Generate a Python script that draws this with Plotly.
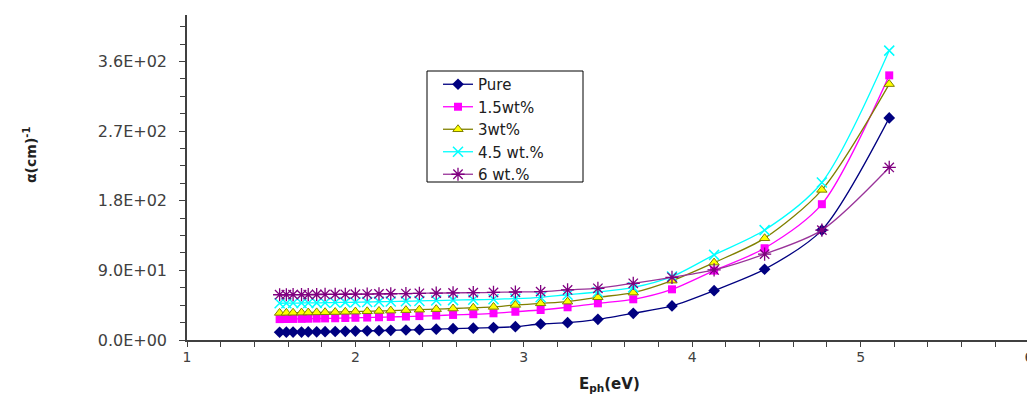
import plotly.graph_objects as go

# Photon energy (eV)
energy = [1.55, 1.59, 1.63, 1.68, 1.72, 1.77, 1.82, 1.88, 1.94, 2.00,
          2.07, 2.14, 2.21, 2.30, 2.38, 2.48, 2.58, 2.70, 2.82, 2.95,
          3.10, 3.26, 3.44, 3.65, 3.88, 4.13, 4.43, 4.77, 5.17]

pure = [10.0, 10.1, 10.2, 10.3, 10.5, 10.6, 10.8, 11.0, 11.2, 11.5,
        11.8, 12.1, 12.5, 12.9, 13.4, 14.0, 14.6, 15.3, 16.0, 17.2,
        20.7, 22.4, 26.7, 34.5, 44.0, 63.8, 91.4, 142.0, 287.0]

wt1_5 = [27.0, 27.1, 27.2, 27.3, 27.5, 27.7, 27.9, 28.1, 28.4, 28.7,
         29.0, 29.4, 29.8, 30.3, 30.9, 31.6, 32.4, 33.3, 34.5, 36.5,
         38.8, 42.3, 47.4, 52.6, 65.5, 89.7, 118.6, 175.5, 342.0]

wt3 = [35.0, 35.1, 35.2, 35.4, 35.5, 35.7, 35.9, 36.1, 36.4, 36.7,
       37.1, 37.5, 38.0, 38.6, 39.2, 39.9, 40.7, 41.7, 42.8, 45.3,
       47.4, 49.6, 55.2, 61.2, 76.7, 100.0, 131.5, 194.0, 330.7]

wt4_5 = [47.5, 47.6, 47.7, 47.8, 47.9, 48.0, 48.2, 48.4, 48.6, 48.8,
         49.1, 49.4, 49.7, 50.1, 50.5, 51.0, 51.5, 52.0, 52.6, 53.5,
         55.2, 58.5, 62.0, 68.0, 82.0, 110.0, 142.0, 203.5, 374.0]

wt6 = [58.5, 58.5, 58.6, 58.6, 58.7, 58.8, 58.9, 59.0, 59.1, 59.2,
       59.4, 59.6, 59.8, 60.0, 60.3, 60.6, 60.9, 61.2, 61.5, 62.0,
       62.5, 64.7, 66.8, 73.3, 81.0, 90.5, 111.0, 142.0, 223.0]

series_names = ["Pure", "1.5wt%", "3wt%", "4.5 wt.%", "6 wt.%"]

y_tickvals = [0, 90, 180, 270, 360]
y_ticktext = ["0.0E+00", "9.0E+01", "1.8E+02", "2.7E+02", "3.6E+02"]

font_fam = "DejaVu Sans, Arial, sans-serif"
axis_col = "#404040"

fig = go.Figure()

styles = [
    dict(data=pure, line="#000080",
         marker=dict(symbol="diamond", size=9, color="#000080")),
    dict(data=wt1_5, line="#FF00FF",
         marker=dict(symbol="square", size=8, color="#FF00FF")),
    dict(data=wt3, line="#808000",
         marker=dict(symbol="triangle-up", size=9, color="#FFFF00",
                     line=dict(color="#808000", width=1))),
    dict(data=wt4_5, line="#00FFFF",
         marker=dict(symbol="x-thin-open", size=10, color="#00FFFF",
                     line=dict(color="#00FFFF", width=1.5))),
    dict(data=wt6, line="#993399",
         marker=dict(symbol="asterisk-open", size=11, color="#800080",
                     line=dict(color="#800080", width=1.3))),
]

for i, (name, st) in enumerate(zip(series_names, styles)):
    fig.add_trace(go.Scatter(
        x=energy, y=st["data"], name=name, mode="lines+markers",
        line=dict(color=st["line"], width=1.3, shape="spline", smoothing=0.8),
        marker=st["marker"], legendgroup=f"g{i}",
    ))

# plot area in page pixels: x 187..1029, y 15..340 (page body has an 8px margin)
def px_x(p):
    return (p - 187) / 842

def px_y(p):
    return (340 - p) / 325

fig.update_layout(
    width=1027, height=391,
    margin=dict(l=179, r=6, t=7, b=59, autoexpand=False),
    paper_bgcolor="white", plot_bgcolor="white",
    font=dict(family=font_fam, color=axis_col),
    showlegend=True,
    legend=dict(
        x=px_x(438), y=px_y(68), xanchor="left", yanchor="top",
        borderwidth=0, bgcolor="rgba(0,0,0,0)",
        font=dict(family=font_fam, size=15, color="#202020"),
        traceorder="grouped", tracegroupgap=0,
    ),
    shapes=[
        dict(type="rect", xref="paper", yref="paper",
             x0=px_x(427), x1=px_x(583), y0=px_y(182), y1=px_y(71),
             line=dict(color="#000000", width=1), fillcolor="white", layer="below"),
    ],
    xaxis=dict(
        range=[1, 6], tickmode="linear", tick0=1, dtick=1,
        showgrid=False, zeroline=False, automargin=False,
        showline=True, linecolor=axis_col, linewidth=1.5,
        ticks="outside", ticklen=5, tickcolor=axis_col,
        tickfont=dict(family=font_fam, size=14, color=axis_col),
        ticklabelstandoff=-2,
        minor=dict(dtick=0.2, ticks="outside", ticklen=5, tickcolor=axis_col),
    ),
    yaxis=dict(
        range=[0, 420], tickmode="array", tickvals=y_tickvals, ticktext=y_ticktext,
        showgrid=False, zeroline=False, automargin=False,
        showline=True, linecolor=axis_col, linewidth=1.5,
        ticks="outside", ticklen=6, tickcolor=axis_col,
        tickfont=dict(family=font_fam, size=16, color=axis_col),
        ticklabelstandoff=9,
        minor=dict(dtick=22.5, ticks="outside", ticklen=5, tickcolor=axis_col),
    ),
    annotations=[
        dict(text="<b>α(cm)<sup>-1</sup></b>", xref="paper", yref="paper",
             x=px_x(30), y=px_y(155), textangle=-90, showarrow=False,
             font=dict(family=font_fam, size=14, color="#202020"),
             xanchor="center", yanchor="middle"),
        dict(text="<b>E<sub>ph</sub>(eV)</b>", xref="paper", yref="paper",
             x=px_x(609), y=px_y(384), showarrow=False,
             font=dict(family=font_fam, size=15, color="#202020"),
             xanchor="center", yanchor="middle"),
    ],
)

fig.write_html("out.html")
